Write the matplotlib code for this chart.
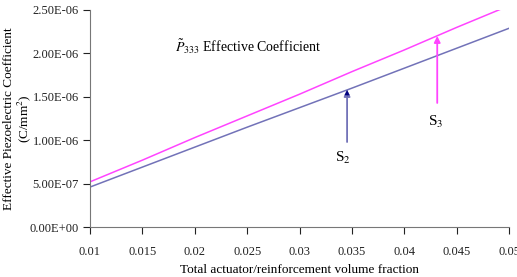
import numpy as np
import matplotlib.pyplot as plt

plt.rcParams['font.family'] = ['Liberation Serif', 'DejaVu Serif']
plt.rcParams['mathtext.fontset'] = 'stix'

# volume fraction and effective coefficients (C/mm^2)
vol_frac = [0.01, 0.015, 0.02, 0.025, 0.03, 0.035, 0.04, 0.045, 0.05]
s2_vals = [0.46e-6, 0.69e-6, 0.92e-6, 1.15e-6, 1.375e-6, 1.60e-6, 1.83e-6, 2.06e-6, 2.29e-6]
s3_vals = [0.52e-6, 0.77e-6, 1.03e-6, 1.28e-6, 1.53e-6, 1.79e-6, 2.04e-6, 2.30e-6, 2.55e-6]

x_ticks = [0.01, 0.015, 0.02, 0.025, 0.03, 0.035, 0.04, 0.045, 0.05]
x_labels = ["0.01", "0.015", "0.02", "0.025", "0.03", "0.035", "0.04", "0.045", "0.05"]
y_ticks = [0, 0.5e-6, 1.0e-6, 1.5e-6, 2.0e-6, 2.5e-6]
y_labels = ["0.00E+00", "5.00E-07", "1.00E-06", "1.50E-06", "2.00E-06", "2.50E-06"]

c_s2 = '#7272b8'
c_s3 = '#ff44ff'


def main():
    fig = plt.figure(figsize=(5.17, 2.77), dpi=100)
    ax = fig.add_axes([0.174, 0.1805, 0.811, 0.7835])

    ax.plot(vol_frac, s2_vals, color=c_s2, lw=1.1)
    ax.plot(vol_frac, s3_vals, color=c_s3, lw=1.1)

    ax.set_xlim(0.01, 0.05)
    ax.set_ylim(0, 2.5e-6)
    ax.set_xticks(x_ticks)
    ax.set_xticklabels(x_labels, fontsize=9)
    ax.set_yticks(y_ticks)
    ax.set_yticklabels(y_labels, fontsize=9)
    ax.tick_params(colors='#222222', length=5, width=0.8)
    ax.tick_params(axis='x', pad=9)
    ax.tick_params(axis='y', pad=3)

    for side in ['top', 'right']:
        ax.spines[side].set_visible(False)
    for side in ['left', 'bottom']:
        ax.spines[side].set_color('#777777')

    ax.set_xlabel("Total actuator/reinforcement volume fraction", fontsize=9.5)
    ax.xaxis.set_label_coords(0.5, -0.17)
    ax.set_ylabel("Effective Piezoelectric Coefficient\n(C/mm$^2$)", fontsize=9.5, linespacing=1.0)
    ax.yaxis.set_label_coords(-0.136, 0.5)

    ax.text(0.0181, 2.07e-6, r"$\tilde{P}_{333}$ Effective Coefficient", fontsize=10, va='center')

    ax.annotate("", xy=(0.03453, 1.578e-6), xytext=(0.03453, 0.979e-6),
                arrowprops=dict(arrowstyle='-|>', color=c_s2, lw=1.3,
                                mutation_scale=9, shrinkA=0, shrinkB=0))
    ax.annotate("", xy=(0.03453, 1.578e-6), xytext=(0.03453, 1.50e-6),
                arrowprops=dict(arrowstyle='-|>', color='#000080', lw=0.1,
                                mutation_scale=9, shrinkA=0, shrinkB=0))
    ax.annotate("", xy=(0.04313, 2.20e-6), xytext=(0.04313, 1.429e-6),
                arrowprops=dict(arrowstyle='-|>', color=c_s3, lw=1.3,
                                mutation_scale=9, shrinkA=0, shrinkB=0))

    ax.text(0.03415, 0.795e-6, "S$_2$", fontsize=11, ha='center', va='center')
    ax.text(0.0430, 1.21e-6, "S$_3$", fontsize=11, ha='center', va='center')

    fig.savefig("out.png", dpi=100)


if __name__ == "__main__":
    main()
